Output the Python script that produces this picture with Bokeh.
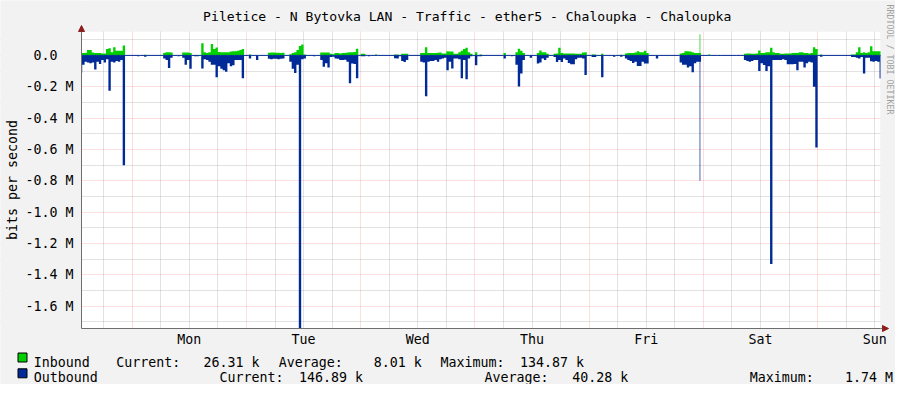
import math
from bokeh.plotting import figure
from bokeh.models import (Range1d, FixedTicker, Label, BoxAnnotation, Arrow,
                          NormalHead, ColumnDataSource, LinearAxis, Grid)
from bokeh.embed import file_html
from bokeh.resources import INLINE

TITLE = "Piletice - N Bytovka LAN - Traffic - ether5 - Chaloupka - Chaloupka"
Y_LABEL = "bits per second"
WATERMARK = "RRDTOOL / TOBI OETIKER"
day_names = ["Mon", "Tue", "Wed", "Thu", "Fri", "Sat", "Sun"]
day_label_hours = [12, 36, 60, 84, 108, 132, 156]      # label at noon of each day
midnight_hours = [0, 24, 48, 72, 96, 120, 144]
y_tick_values_M = [0.0, -0.2, -0.4, -0.6, -0.8, -1.0, -1.2, -1.4, -1.6]
y_tick_labels = ["0.0\u00a0\u00a0", "-0.2 M", "-0.4 M", "-0.6 M", "-0.8 M",
                 "-1.0 M", "-1.2 M", "-1.4 M", "-1.6 M"]

# time in hours from Monday 00:00 (each value holds until the next time)
hours = [-10.65, -10.5, -10.0, -9.5, -9.0, -8.5, -8.0, -7.5, -7.0, -6.5, -6.0, -5.5, -5.0,
         -4.5, -4.0, -3.5, -3.0, -2.5, -2.0, -1.5, 1.0, 1.5, 2.5, 3.0,
         6.5, 7.0, 7.5, 8.0, 8.5, 9.5, 10.0, 10.5, 11.0, 11.5, 12.0, 12.5, 13.0, 14.0,
         14.5, 15.0, 15.5, 16.0, 16.5, 17.0, 17.5, 18.0, 18.5, 19.0, 19.5, 20.0, 20.5,
         21.0, 21.5, 22.0, 22.5, 23.0, 23.5, 24.5, 25.0, 26.0, 26.5,
         28.5, 29.0, 29.5, 30.0, 30.5, 31.0, 31.5, 32.0,
         33.0, 33.5, 34.0, 34.5, 35.0, 35.5, 36.0, 36.5, 38.0, 38.5,
         39.5, 40.0, 40.5, 41.0, 41.5, 42.0, 42.5, 43.0, 43.5, 44.0, 44.5, 45.0, 45.5,
         46.0, 46.5, 47.0, 47.5, 48.0, 49.0, 49.5, 50.0, 51.0, 51.5,
         55.0, 55.5, 56.0, 56.5, 57.0, 57.5, 58.0,
         60.5, 61.0, 61.5, 62.0, 62.5, 63.0, 63.5, 64.0, 64.5, 65.0, 65.5, 66.0, 66.5,
         67.0, 67.5, 68.0, 68.5, 69.0, 69.5, 70.0, 70.5, 71.0, 71.5, 72.0, 72.5, 73.0, 73.5,
         78.0, 78.5, 79.5, 80.0, 80.5, 81.0, 81.5, 82.0, 82.5, 83.5, 84.0,
         85.0, 85.5, 86.0, 86.5, 87.0, 87.5,
         88.5, 89.0, 89.5, 90.0, 90.5, 91.0, 91.5, 92.0, 92.5, 93.0, 93.5, 94.0, 94.5,
         95.0, 95.5, 96.5, 97.5, 98.5, 99.0, 101.0, 101.5, 102.5, 103.0,
         103.5, 104.0, 104.5, 105.0, 105.5, 106.0, 106.5, 107.0, 107.5, 108.0, 108.5,
         110.0, 110.5,
         115.0, 115.5, 116.0, 116.5, 117.0, 117.5, 118.0, 118.5, 119.0, 119.2, 119.35, 119.5,
         121.0, 121.5, 123.0, 123.5, 127.0, 127.5,
         128.5, 129.0, 129.5, 130.0, 130.5, 131.0, 131.5, 132.0, 132.5, 133.0, 133.5,
         134.0, 134.5, 135.0, 135.5, 136.0, 136.5, 137.0, 137.5, 138.0, 138.5, 139.0,
         139.5, 140.0, 140.5, 141.0, 141.5, 142.0, 142.5, 143.0, 143.5, 144.0,
         144.5, 145.0, 151.0, 152.0, 152.5, 153.0, 153.5, 154.0, 154.5, 155.0, 155.5,
         156.0, 156.5, 157.0, 157.2]

inbound_k = [15, 15, 17, 35, 35, 18, 15, 15, 15, 12, 12, 40, 46,
             20, 52, 30, 30, 30, 63, 0, 0, 0, 4, 0,
             15, 20, 20, 18, 0, 3, 0, 18, 18, 18, 15, 0, 3, 0,
             77, 20, 15, 20, 73, 40, 50, 22, 20, 20, 20, 20, 25,
             27, 27, 30, 35, 40, 0, 6, 0, 2, 0,
             17, 18, 18, 17, 17, 16, 17, 0,
             8, 15, 20, 35, 60, 70, 5, 0, 3, 0,
             18, 19, 19, 18, 10, 8, 15, 15, 12, 15, 16, 18, 20,
             20, 22, 42, 0, 10, 0, 0, 0, 5, 0,
             6, 6, 3, 10, 10, 10, 0,
             15, 15, 52, 15, 15, 15, 15, 17, 19, 12, 12, 27, 25,
             25, 10, 10, 20, 30, 40, 48, 20, 10, 0, 20, 3, 5, 0,
             15, 0, 0, 0, 20, 42, 30, 15, 0, 0, 0,
             15, 31, 20, 20, 10, 0,
             10, 12, 48, 15, 12, 12, 12, 12, 12, 10, 10, 10, 18,
             20, 0, 5, 0, 10, 0, 0, 0, 4, 0,
             12, 15, 15, 15, 18, 27, 20, 20, 30, 15, 0,
             0, 0,
             12, 15, 27, 27, 25, 20, 15, 15, 15, 135, 15, 0,
             5, 0, 3, 0, 3, 0,
             10, 12, 12, 10, 10, 12, 31, 15, 15, 20, 20,
             48, 20, 15, 15, 10, 10, 12, 12, 12, 15, 15,
             15, 20, 20, 15, 15, 12, 15, 52, 40, 0,
             5, 0, 5, 20, 52, 15, 20, 15, 20, 58, 27,
             27, 27, 26, 26]

outbound_k = [110, 60, 40, 45, 50, 45, 90, 40, 55, 30, 45, 25, 225,
              40, 45, 35, 40, 30, 700, 0, 5, 0, 8, 0,
              20, 30, 80, 15, 0, 5, 0, 15, 60, 30, 85, 0, 5, 0,
              84, 25, 30, 40, 60, 60, 140, 70, 85, 95, 105, 50, 70,
              63, 30, 30, 30, 145, 0, 20, 0, 30, 0,
              22, 24, 22, 22, 24, 22, 20, 0,
              40, 85, 113, 60, 1742, 25, 20, 0, 5, 0,
              30, 73, 50, 77, 10, 8, 20, 22, 30, 30, 28, 40, 178,
              52, 55, 146, 0, 5, 0, 5, 0, 0, 0,
              18, 20, 5, 35, 42, 30, 0,
              40, 45, 261, 40, 35, 35, 30, 40, 25, 20, 15, 94, 40,
              84, 20, 20, 25, 146, 30, 152, 20, 5, 0, 63, 5, 5, 0,
              20, 0, 5, 0, 60, 199, 115, 30, 0, 15, 0,
              52, 45, 20, 30, 15, 0,
              10, 42, 30, 42, 20, 30, 48, 56, 56, 25, 15, 15, 20,
              125, 0, 10, 0, 140, 0, 8, 0, 8, 0,
              20, 30, 35, 48, 40, 67, 67, 40, 52, 52, 0,
              20, 0,
              45, 60, 60, 77, 70, 108, 50, 40, 40, 800, 40, 0,
              0, 0, 0, 0, 3, 0,
              30, 35, 40, 35, 30, 30, 100, 50, 62, 100, 70,
              1330, 30, 30, 30, 30, 25, 30, 56, 56, 56, 55,
              94, 40, 40, 77, 50, 40, 45, 200, 588, 0,
              8, 0, 10, 15, 20, 10, 115, 15, 15, 38, 40,
              35, 40, 147, 147]

legend_names = ["Inbound", "Outbound"]
legend_stats = [
    [("Current:", 115.7), ("26.31 k", 203.0), ("Average:", 278.3),
     ("8.01 k", 373.3), ("Maximum:", 440.0), ("134.87 k", 519.5)],
    [("Current:", 219.0), ("146.89 k", 298.5), ("Average:", 484.0),
     ("40.28 k", 571.7), ("Maximum:", 749.3), ("1.74 M", 844.5)],
]

# ---------------- styling / layout (pixels) ----------------
FONT = "DejaVu Sans Mono"
IN_COLOR = "#00CF00"
OUT_COLOR = "#002A97"
BACK = "#F2F2F2"
AXIS = "#6E6E6E"
ARROW = "#8E1E1E"
W, H = 895, 384
PL, PR, PT, PB = 81, 880, 31, 328          # plot area inside the canvas
X0, X1 = -10.65, 157.2                     # hours at plot area edges
Y0, Y1 = -1742000.0, 152400.0              # bps at plot area edges
kx = (X1 - X0) / (PR - PL)
ky = (Y1 - Y0) / (PB - PT)

src = ColumnDataSource(dict(
    x=hours,
    zero=[0.0] * len(hours),
    inb=[v * 1000.0 for v in inbound_k],
    outb=[-v * 1000.0 for v in outbound_k],
))

p = figure(width=W, height=H, output_backend="svg", toolbar_location=None,
           x_range=Range1d(X0 - PL * kx, X1 + (W - PR) * kx),
           y_range=Range1d(Y0 - (H - PB) * ky, Y1 + PT * ky),
           x_axis_type=None, y_axis_type=None,
           min_border=0, background_fill_color=BACK, border_fill_color=BACK,
           outline_line_color=None, title=None)


def box(left, right, top, bottom, color, level, line=None):
    b = BoxAnnotation(left=left, right=right, top=H - top, bottom=H - bottom,
                      left_units="screen", right_units="screen",
                      top_units="screen", bottom_units="screen",
                      fill_color=color, fill_alpha=1.0, level=level,
                      line_color=line, line_alpha=1.0, line_width=1)
    p.add_layout(b)


# white canvas of the graph
box(PL, PR, PT, PB, "white", "image")

# grids
xgrid = Grid(dimension=0,
             ticker=FixedTicker(ticks=midnight_hours,
                                minor_ticks=[h for h in range(-6, 157, 6) if h % 24 != 0]))
ygrid = Grid(dimension=1,
             ticker=FixedTicker(ticks=[v * 1e6 for v in y_tick_values_M],
                                minor_ticks=[(k / 10.0) * 1e6 for k in range(1, -18, -2)]))
for g in (xgrid, ygrid):
    g.grid_line_color = "#F06060"
    g.grid_line_alpha = 0.4
    g.grid_line_dash = "1 1"
    g.minor_grid_line_color = "#A8A8A8"
    g.minor_grid_line_alpha = 0.65
    g.minor_grid_line_dash = "1 1"
    p.add_layout(g)

# masks so the grid stays inside the graph canvas
box(0, PL, 0, H, BACK, "underlay")
box(PR, W, 0, H, BACK, "underlay")
box(PL, PR, 0, PT, BACK, "underlay")
box(PL, PR, PB, H, BACK, "underlay")

# axes
xaxis = LinearAxis(fixed_location=Y0, bounds=(X0, X1),
                   ticker=FixedTicker(ticks=day_label_hours),
                   major_label_overrides={h: d for h, d in zip(day_label_hours, day_names)})
yaxis = LinearAxis(fixed_location=X0, bounds=(Y0, Y1),
                   ticker=FixedTicker(ticks=[v * 1e6 for v in y_tick_values_M]),
                   major_label_overrides={v * 1e6: t for v, t in zip(y_tick_values_M, y_tick_labels)})
for ax in (xaxis, yaxis):
    ax.axis_line_color = AXIS
    ax.major_tick_line_color = None
    ax.minor_tick_line_color = None
    ax.major_tick_out = 0
    ax.major_tick_in = 0
    ax.minor_tick_out = 0
    ax.minor_tick_in = 0
    ax.major_label_text_font = FONT
    ax.major_label_text_font_size = "13.3px"
    ax.major_label_text_color = "black"
xaxis.major_label_standoff = 3
yaxis.major_label_standoff = 8
p.add_layout(xaxis, "below")
p.add_layout(yaxis, "left")

# data areas
p.varea_step(x="x", y1="zero", y2="inb", step_mode="after", source=src,
             fill_color=IN_COLOR)
p.varea_step(x="x", y1="zero", y2="outb", step_mode="after", source=src,
             fill_color=OUT_COLOR)
p.line(x="x", y="zero", source=src, line_color=OUT_COLOR, line_width=1)

# axis arrows
p.add_layout(Arrow(end=NormalHead(size=6, fill_color=ARROW, line_color=ARROW),
                   x_start=PL, y_start=H - PT, x_end=PL, y_end=H - PT + 6,
                   start_units="screen", end_units="screen", line_color=AXIS))
p.add_layout(Arrow(end=NormalHead(size=6, fill_color=ARROW, line_color=ARROW),
                   x_start=PR, y_start=H - PB, x_end=PR + 8, y_end=H - PB,
                   start_units="screen", end_units="screen", line_color=AXIS))


def lab(text, x, y, size="13.3px", align="left", baseline="alphabetic",
        angle=0.0, color="black"):
    p.add_layout(Label(x=x, y=H - y, x_units="screen", y_units="screen", text=text,
                       text_font=FONT, text_font_size=size, text_align=align,
                       text_baseline=baseline, angle=angle, text_color=color))


lab(TITLE, 466.7, 16, size="13.1px", align="center")
lab(Y_LABEL, 11.5, (PT + PB) / 2.0, align="center", baseline="middle", angle=math.pi / 2)
lab(WATERMARK, 889, 4, size="8.3px", baseline="middle", angle=-math.pi / 2, color="#A0A0A0")

legend_colors = [IN_COLOR, OUT_COLOR]
for i, (name, color, items) in enumerate(zip(legend_names, legend_colors, legend_stats)):
    base = 361.5 + 15.8 * i
    box(17.5, 26.5, base - 9, base, color, "annotation", line="black")
    lab(name, 33.3, base)
    for text, x in items:
        lab(text, x, base)

open("out.html", "w").write(file_html(p, INLINE))
